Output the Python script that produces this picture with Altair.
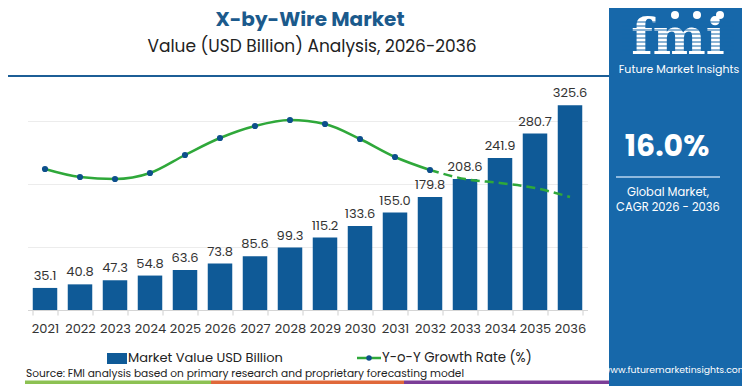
import altair as alt
import pandas as pd

# ---- data ----
years = [str(y) for y in range(2021, 2037)]
market_value = [35.1, 40.8, 47.3, 54.8, 63.6, 73.8, 85.6, 99.3, 115.2, 133.6,
                155.0, 179.8, 208.6, 241.9, 280.7, 325.6]
# Y-o-Y growth line (hidden secondary axis), estimated from its drawn shape
growth_rate = [14.1, 13.3, 13.1, 13.7, 15.5, 17.2, 18.4, 19.0, 18.6, 17.1,
               15.3, 14.0, 13.1, 12.7, 12.2, 11.3]
actual_until = "2032"   # dots + solid line up to here, dashed afterwards

y_ticks = [0, 50, 100, 150, 200, 250, 300, 350]

FONT = "Poppins, Inter, 'Open Sans', sans-serif"
BAR = "#0f5a97"
GREEN = "#2fa83a"
DOT = "#0d4f8b"
PANEL = "#1768aa"
TITLE = "#1b5a8c"

df = pd.DataFrame({"year": years, "value": market_value, "growth": growth_rate})
df["idx"] = range(len(df))
cut = years.index(actual_until)
df_solid = df[df["idx"] <= cut]
df_dash = df[df["idx"] >= cut]

# plot area origin on screen
OX, OY = 27.5, 90.0
def sx(v):
    return v - OX
def sy(v):
    return v - OY

xenc = alt.X("year:N", title=None, sort=years,
             scale=alt.Scale(paddingInner=0.3, paddingOuter=0.15),
             axis=alt.Axis(labelAngle=0, labelFontSize=13, labelColor="#333",
                           labelFont=FONT, tickSize=5, tickColor="#cfcfcf",
                           tickBand="extent", domainColor="#d5d5d5",
                           labelPadding=7, grid=False))

bars = alt.Chart(df).mark_bar(color=BAR).encode(
    x=xenc,
    y=alt.Y("value:Q", title=None, scale=alt.Scale(domain=[0, 350]),
            axis=alt.Axis(values=y_ticks, labels=False, ticks=False, domain=False,
                          grid=True, gridColor="#ececec", gridWidth=1)),
)
labels = alt.Chart(df).mark_text(baseline="bottom", dy=-5, fontSize=13,
                                 color="#333", font=FONT).encode(
    x=alt.X("year:N", sort=years),
    y=alt.Y("value:Q"),
    text=alt.Text("value:Q", format=".1f"),
)
bar_layer = alt.layer(bars, labels)

gy = alt.Y("growth:Q", scale=alt.Scale(domain=[0, 22]), axis=None)
line_solid = alt.Chart(df_solid).mark_line(color=GREEN, strokeWidth=2.5,
                                           interpolate="monotone").encode(
    x=alt.X("year:N", sort=years), y=gy)
line_dash = alt.Chart(df_dash).mark_line(color=GREEN, strokeWidth=2.5,
                                         strokeDash=[9, 5],
                                         interpolate="monotone").encode(
    x=alt.X("year:N", sort=years), y=gy)
pts = alt.Chart(df_solid).mark_point(filled=True, color=DOT, size=38,
                                     opacity=1).encode(
    x=alt.X("year:N", sort=years), y=gy)
line_layer = alt.layer(line_solid, line_dash, pts)

one = pd.DataFrame({"a": [0]})

def text(t, x, y, size, color="#222", weight="normal", align="center",
         font=FONT, baseline="middle"):
    return alt.Chart(one).mark_text(text=t, fontSize=size, color=color,
                                    fontWeight=weight, align=align,
                                    baseline=baseline, font=font).encode(
        x=alt.value(sx(x)), y=alt.value(sy(y)))

def rect(x1, x2, y1, y2, color):
    return alt.Chart(one).mark_rect(color=color).encode(
        x=alt.value(sx(x1)), x2=alt.value(sx(x2)),
        y=alt.value(sy(y1)), y2=alt.value(sy(y2)))

def hrule(x1, x2, y, color, w):
    return alt.Chart(one).mark_rule(color=color, strokeWidth=w).encode(
        x=alt.value(sx(x1)), x2=alt.value(sx(x2)), y=alt.value(sy(y)))

def vrule(x, y1, y2, color, w):
    return alt.Chart(one).mark_rule(color=color, strokeWidth=w).encode(
        x=alt.value(sx(x)), y=alt.value(sy(y1)), y2=alt.value(sy(y2)))

def dot(x, y, size, color):
    return alt.Chart(one).mark_point(filled=True, size=size, color=color,
                                     opacity=1).encode(
        x=alt.value(sx(x)), y=alt.value(sy(y)))

deco = [
    # header
    text("X-by-Wire Market", 310, 20, 20, TITLE, "bold"),
    text("Value (USD Billion) Analysis, 2026-2036", 312, 47, 17, "#222"),
    hrule(0, 610, 76, "#1c5e96", 2),
    vrule(1.5, 78, 386, "#d3d3d3", 2),
    # legend
    rect(107, 127, 353, 364, BAR),
    text("Market Value USD Billion", 128, 358, 13, "#222", align="left"),
    hrule(357, 381, 358, GREEN, 2.5),
    dot(369, 358, 30, DOT),
    text("Y-o-Y Growth Rate (%)", 382, 358, 13.3, "#222", align="left"),
    # source
    text("Source: FMI analysis based on primary research and proprietary forecasting model",
         26, 373.5, 10.6, "#222", align="left"),
    # colour strip
    rect(25, 211, 380.5, 384, "#8cc152"),
    rect(211, 404, 380.5, 384, "#e0683a"),
    rect(404, 610, 380.5, 384, "#7b3d97"),
    # right panel
    rect(609, 750, 4, 386, PANEL),
    text("fmi", 678, 54, 50, "white", "bold", font="'DejaVu Serif', serif",
         baseline="alphabetic"),
]
for yy in [22, 26, 30, 34, 38, 42, 46, 50]:
    deco.append(hrule(622, 734, yy, PANEL, 1.1))
deco += [
    dot(675, 15, 65, "white"),
    dot(697, 15, 65, "white"),
    dot(720, 15, 65, "white"),
    text("Future Market Insights", 679, 70, 11, "white"),
    text("16.0%", 667, 147, 30, "white", "bold"),
    hrule(616, 720, 177, "#8fb9de", 2),
    text("Global Market,", 668, 193, 11.5, "white"),
    text("CAGR 2026 - 2036", 668, 208, 11.5, "white"),
    text("www.futuremarketinsights.com", 675, 370, 9.3, "white"),
]

chart = alt.layer(bar_layer, line_layer, *deco).resolve_scale(
    y="independent"
).properties(
    width=560, height=220,
    padding={"left": 19.5, "top": 82, "right": 154.5, "bottom": 76},
    autosize=alt.AutoSizeParams(type="none"),
    background="white",
).configure_view(stroke=None)

chart.save("out.html", embed_options={"renderer": "svg", "actions": False})
